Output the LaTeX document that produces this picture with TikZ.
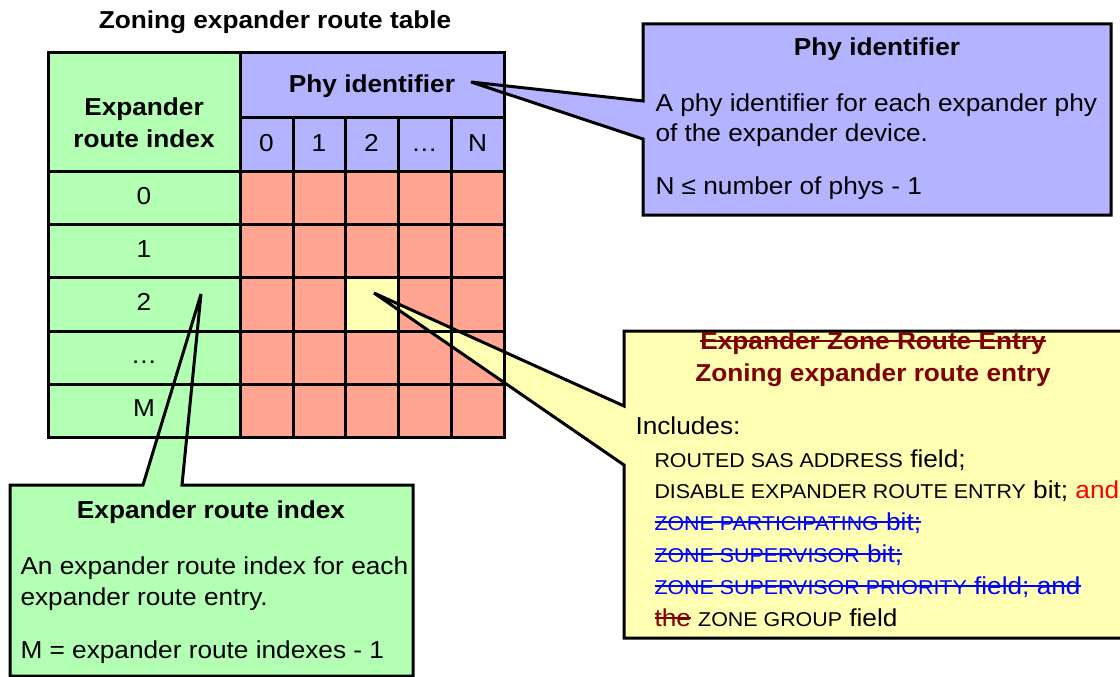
\documentclass[tikz,border=0pt]{standalone}
\usepackage{fontspec}
\setmainfont[FakeStretch=1.07]{Liberation Sans}
\definecolor{cgreen}{RGB}{179,255,179}
\definecolor{cpurple}{RGB}{179,179,255}
\definecolor{csalmon}{RGB}{255,165,145}
\definecolor{cyellow}{RGB}{255,255,179}
\definecolor{cdarkred}{RGB}{128,0,0}
\definecolor{cred}{RGB}{255,0,0}
\definecolor{cblue}{RGB}{0,0,255}
\newcommand{\fs}{\fontsize{24.5}{31}\selectfont}
\newcommand{\smc}[1]{{\fontsize{20}{24}\selectfont #1}}
\newsavebox{\strkbox}
\newcommand{\strk}[1]{\sbox{\strkbox}{#1}\rlap{\usebox{\strkbox}}\rule[7pt]{\wd\strkbox}{1.8pt}}
\begin{document}
\begin{tikzpicture}[x=1pt,y=-1pt,line width=3pt,
  txt/.style={inner sep=0pt,font=\fs},
  bld/.style={inner sep=0pt,font=\fs\bfseries},
  outline/.style={draw=black,line join=miter,miter limit=3}]
\clip (0,0) rectangle (1120,677);
% cell fills
\fill[cgreen] (48,53) rectangle (240,437);
\fill[cpurple] (240,53) rectangle (504,171);
\fill[csalmon] (240,171) rectangle (504,437);
\fill[cyellow] (345,277) rectangle (398,331);
% callout geometry
\coordinate (phyTip) at (471,82);
\coordinate (phyA) at (643,101);
\coordinate (phyB) at (643,139);
\coordinate (idxTip) at (201,294);
\coordinate (idxA) at (143,485);
\coordinate (idxB) at (182,485);
\coordinate (entTip) at (374,293);
\coordinate (entA) at (624,406);
\coordinate (entB) at (624,465);
\def\phypath{(643,24) -- (1111,24) -- (1111,215) -- (643,215) -- (phyB) -- (phyTip) -- (phyA) -- cycle}
\def\idxpath{(10,485) -- (idxA) -- (idxTip) -- (idxB) -- (413,485) -- (413,676) -- (10,676) -- cycle}
\def\entpath{(624,331) -- (1130,331) -- (1130,638) -- (624,638) -- (entB) -- (entTip) -- (entA) -- cycle}
\fill[cpurple] \phypath;
\fill[cgreen] \idxpath;
\fill[cyellow] \entpath;
% grid
\draw (48,53) rectangle (504,437);
\draw (240,53) -- (240,437);
\draw (240,117) -- (504,117);
\foreach \x in {293,345,398,451} \draw (\x,117) -- (\x,437);
\foreach \y in {171,224,277,331,384} \draw (48,\y) -- (504,\y);
% callout outlines
\path[outline] \phypath;
\path[outline] \idxpath;
\path[outline] \entpath;
% table texts
\node[bld,anchor=base] (title) at (275,28.5) {Zoning expander route table};
\node[bld,anchor=base] (hdrIdxA) at (144,115) {Expander};
\node[bld,anchor=base] (hdrIdxB) at (144,147) {route index};
\node[bld,anchor=base] (hdrPhy) at (372,92.5) {Phy identifier};
\node[txt,anchor=base] (c0) at (266.5,151) {0};
\node[txt,anchor=base] (c1) at (319,151) {1};
\node[txt,anchor=base] (c2) at (371.5,151) {2};
\node[txt,anchor=base] (c3) at (424.5,151) {\ldots};
\node[txt,anchor=base] (cN) at (477.5,151) {N};
\node[txt,anchor=base] (r0) at (144,204) {0};
\node[txt,anchor=base] (r1) at (144,257) {1};
\node[txt,anchor=base] (r2) at (144,310) {2};
\node[txt,anchor=base] (r3) at (144,363) {\ldots};
\node[txt,anchor=base] (rM) at (144,416) {M};
% phy callout texts
\node[bld,anchor=base] (phyT) at (877,56) {Phy identifier};
\node[txt,anchor=base west] (phy1) at (654,111) {A phy identifier for each expander phy};
\node[txt,anchor=base west] (phy2) at (654,142) {of the expander device.};
\node[txt,anchor=base west] (phy3) at (654,194) {N ≤ number of phys - 1};
% index callout texts
\node[bld,anchor=base] (idxT) at (211,518) {Expander route index};
\node[txt,anchor=base west] (idx1) at (19,574) {An expander route index for each};
\node[txt,anchor=base west] (idx2) at (19,605) {expander route entry.};
\node[txt,anchor=base west] (idx3) at (19,658) {M = expander route indexes - 1};
% entry callout texts
\node[bld,anchor=base,text=cdarkred] (entT1) at (873,349) {\strk{Expander Zone Route Entry}};
\node[bld,anchor=base,text=cdarkred] (entT2) at (873,381) {Zoning expander route entry};
\node[txt,anchor=base west] (ent0) at (634,434) {Includes:};
\node[txt,anchor=base west] (ent1) at (653,467) {\smc{ROUTED SAS ADDRESS} field;};
\node[txt,anchor=base west] (ent2) at (653,498) {\smc{DISABLE EXPANDER ROUTE ENTRY} bit; \textcolor{cred}{and}};
\node[txt,anchor=base west,text=cblue] (ent3) at (653,530) {\strk{\smc{ZONE PARTICIPATING} bit;}};
\node[txt,anchor=base west,text=cblue] (ent4) at (653,562) {\strk{\smc{ZONE SUPERVISOR} bit;}};
\node[txt,anchor=base west,text=cblue] (ent5) at (653,594) {\strk{\smc{ZONE SUPERVISOR PRIORITY} field; and}};
\node[txt,anchor=base west] (ent6) at (653,626) {\textcolor{cdarkred}{\strk{the}} \smc{ZONE GROUP} field};
\end{tikzpicture}
\end{document}
